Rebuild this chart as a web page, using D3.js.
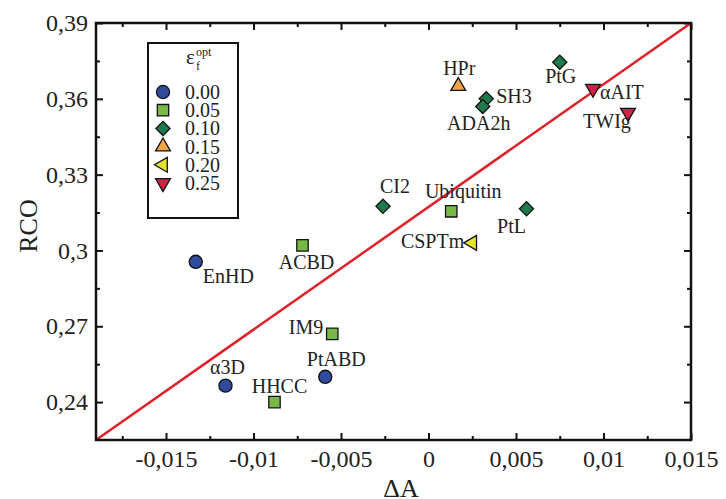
<!DOCTYPE html>
<html lang="en">
<head>
<meta charset="utf-8">
<title>RCO vs dA</title>
<script src="https://d3js.org/d3.v7.min.js"></script>
<style>
  body { margin: 0; background: #fff; }
  svg { display: block; }
  text { font-family: 'Liberation Serif', 'Times New Roman', serif; fill: #222; }
  .tick text { font-size: 24px; }
  .lbl { font-size: 20px; }
  .leg { font-size: 20px; }
  .title { font-size: 26px; }
</style>
</head>
<body>
<svg id="chart" width="726" height="499"></svg>
<script>
// proteins, delta A, relative contact order, and eps_f^opt group (0..5)
const names = ['EnHD', 'ACBD', 'IM9', 'PtABD', '\u03b13D', 'HHCC', 'HPr', 'SH3', 'ADA2h', 'PtG',
               'CI2', 'Ubiquitin', 'PtL', 'CSPTm', '\u03b1AIT', 'TWIg'];
const dA   = [-0.0133, -0.0072, -0.0055, -0.0059, -0.0116, -0.0088, 0.0017, 0.0033, 0.0031, 0.0075,
              -0.0026, 0.0013, 0.0056, 0.0025, 0.0094, 0.0114];
const rco  = [0.2955, 0.302, 0.267, 0.250, 0.2465, 0.240, 0.365, 0.360, 0.357, 0.3745,
              0.3175, 0.3155, 0.3165, 0.303, 0.364, 0.3545];
const grp  = [0, 1, 1, 0, 0, 1, 3, 2, 2, 2, 2, 1, 2, 4, 5, 5];

const epsLabels = ['0.00', '0.05', '0.10', '0.15', '0.20', '0.25'];
const xTicks = [-0.015, -0.01, -0.005, 0, 0.005, 0.01, 0.015];
const yTicks = [0.24, 0.27, 0.30, 0.33, 0.36, 0.39];
const xDomain = [-0.019, 0.015];
const yDomain = [0.225, 0.39];
// red line: rco = a + b * dA
const fitA = 0.3172, fitB = 4.853;

const colors = ['#2f4c9c', '#78b844', '#1e7a4c', '#f0a446', '#e4e42c', '#cc2444'];
const shapes = [d3.symbolCircle, d3.symbolSquare, d3.symbolSquare, d3.symbolTriangle, d3.symbolTriangle, d3.symbolTriangle];
const sizes = [135, 130, 100, 95, 95, 95];
const rot = [0, 0, 45, 0, -90, 180];

// label placement relative to marker: [dx, dy, anchor]
const labelPos = {
  'EnHD': [7, 21, 'start'], 'ACBD': [4, 24, 'middle'], 'IM9': [-9, 0, 'end'],
  'PtABD': [11, -11, 'middle'], '\u03b13D': [2, -12, 'middle'], 'HHCC': [5, -9, 'middle'],
  'HPr': [1, -11, 'middle'], 'SH3': [10, 4, 'start'], 'ADA2h': [-4, 24, 'middle'],
  'PtG': [1, 21, 'middle'], 'CI2': [12, -13, 'middle'], 'Ubiquitin': [12, -13, 'middle'],
  'PtL': [-15, 24, 'middle'], 'CSPTm': [-8, 5, 'end'], '\u03b1AIT': [7, 10, 'start'],
  'TWIg': [-21, 15, 'middle']
};

const svg = d3.select('#chart');
const L = 96, R = 691, T = 23, B = 440;

const x = d3.scaleLinear().domain(xDomain).range([L, R]);
const y = d3.scaleLinear().domain(yDomain).range([B, T]);

const fmt = d => (d === 0 ? '0' : String(+d.toFixed(3))).replace('.', ',');

// major + minor ticks on all four sides, pointing inward
const xMinor = d3.range(-0.0175, 0.015, 0.005);
const yMinor = d3.range(0.225, 0.39, 0.03).map(v => +v.toFixed(3)).filter(v => v > yDomain[0]);

svg.append('g').attr('transform', `translate(0,${B})`)
  .call(d3.axisBottom(x).tickValues(xTicks).tickFormat(fmt).tickSize(-7).tickPadding(10))
  .call(g => g.select('.domain').remove());
svg.append('g').attr('transform', `translate(0,${B})`)
  .call(d3.axisBottom(x).tickValues(xMinor).tickFormat('').tickSize(-4))
  .call(g => g.select('.domain').remove());
svg.append('g').attr('transform', `translate(0,${T})`)
  .call(d3.axisTop(x).tickValues(xTicks).tickFormat('').tickSize(-7))
  .call(g => g.select('.domain').remove());
svg.append('g').attr('transform', `translate(0,${T})`)
  .call(d3.axisTop(x).tickValues(xMinor).tickFormat('').tickSize(-4))
  .call(g => g.select('.domain').remove());

svg.append('g').attr('transform', `translate(${L},0)`)
  .call(d3.axisLeft(y).tickValues(yTicks).tickFormat(fmt).tickSize(-7).tickPadding(8))
  .call(g => g.select('.domain').remove());
svg.append('g').attr('transform', `translate(${L},0)`)
  .call(d3.axisLeft(y).tickValues(yMinor).tickFormat('').tickSize(-4))
  .call(g => g.select('.domain').remove());
svg.append('g').attr('transform', `translate(${R},0)`)
  .call(d3.axisRight(y).tickValues(yTicks).tickFormat('').tickSize(-7))
  .call(g => g.select('.domain').remove());
svg.append('g').attr('transform', `translate(${R},0)`)
  .call(d3.axisRight(y).tickValues(yMinor).tickFormat('').tickSize(-4))
  .call(g => g.select('.domain').remove());

svg.selectAll('.tick line').attr('stroke', '#111').attr('stroke-width', 2);
svg.selectAll('.tick text').attr('fill', '#222');

// red line, clipped to the frame
svg.append('clipPath').attr('id', 'clip')
  .append('rect').attr('x', L).attr('y', T).attr('width', R - L).attr('height', B - T);
svg.append('line')
  .attr('clip-path', 'url(#clip)')
  .attr('x1', x(xDomain[0])).attr('y1', y(fitA + fitB * xDomain[0]))
  .attr('x2', x(xDomain[1])).attr('y2', y(fitA + fitB * xDomain[1]))
  .attr('stroke', '#e0212b').attr('stroke-width', 2.5);

// frame
svg.append('rect').attr('x', L).attr('y', T).attr('width', R - L).attr('height', B - T)
  .attr('fill', 'none').attr('stroke', '#111').attr('stroke-width', 2.5);

// points
const pts = svg.append('g');
names.forEach((n, i) => {
  const g = grp[i];
  pts.append('path')
    .attr('d', d3.symbol().type(shapes[g]).size(sizes[g])())
    .attr('transform', `translate(${x(dA[i])},${y(rco[i])}) rotate(${rot[g]})`)
    .attr('fill', colors[g]).attr('stroke', '#111').attr('stroke-width', 1.3);
  const p = labelPos[n];
  pts.append('text').attr('class', 'lbl')
    .attr('x', x(dA[i]) + p[0]).attr('y', y(rco[i]) + p[1])
    .attr('text-anchor', p[2]).text(n);
});

// legend
const leg = svg.append('g');
leg.append('rect').attr('x', 148).attr('y', 43).attr('width', 90).attr('height', 175)
  .attr('fill', '#fff').attr('stroke', '#111').attr('stroke-width', 2);
leg.append('text').attr('x', 186).attr('y', 64).attr('font-size', 21).text('\u03b5');
leg.append('text').attr('x', 196).attr('y', 70).attr('font-size', 12).text('f');
leg.append('text').attr('x', 196).attr('y', 56).attr('font-size', 12).text('opt');
epsLabels.forEach((e, k) => {
  const cy = 92 + k * 18.2;
  leg.append('path')
    .attr('d', d3.symbol().type(shapes[k]).size(sizes[k])())
    .attr('transform', `translate(163,${cy}) rotate(${rot[k]})`)
    .attr('fill', colors[k]).attr('stroke', '#111').attr('stroke-width', 1.3);
  leg.append('text').attr('class', 'leg').attr('x', 185).attr('y', cy + 7).text(e);
});

// axis titles
svg.append('text').attr('class', 'title').attr('text-anchor', 'middle')
  .attr('x', 401).attr('y', 497).text('\u0394A');
svg.append('text').attr('class', 'title').attr('text-anchor', 'middle')
  .attr('transform', 'translate(37,226) rotate(-90)').text('RCO');
</script>
</body>
</html>
